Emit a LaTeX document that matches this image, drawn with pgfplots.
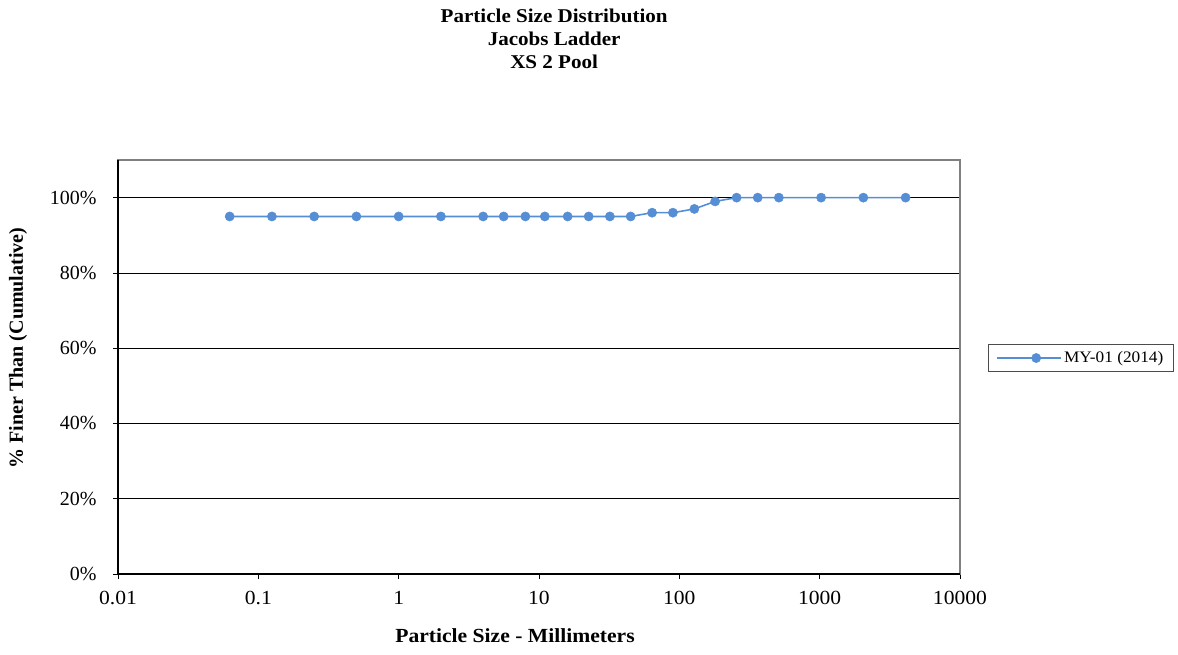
\documentclass[border=0pt]{standalone}
\usepackage{fontspec}
\setmainfont{Liberation Serif}[FakeStretch=1.08]
\newfontfamily\plainfont{Liberation Serif}
\usepackage{pgfplots}
\pgfplotsset{compat=1.18}
\definecolor{ser}{RGB}{85,142,213}
\definecolor{frame}{RGB}{128,128,128}
\begin{document}
\begin{tikzpicture}
\begin{axis}[
  scale only axis,
  width=842pt, height=414pt,
  xmode=log, log basis x=10,
  xmin=0.01, xmax=10000,
  ymin=0, ymax=110,
  xtick={0.01,0.1,1,10,100,1000,10000},
  xticklabels={0.01,0.1,1,10,100,1000,10000},
  ytick={0,20,40,60,80,100},
  yticklabels={0\%,20\%,40\%,60\%,80\%,100\%},
  minor xtick={}, minor ytick={},
  xtick pos=bottom, ytick pos=left,
  ymajorgrids, grid style={black, line width=0.6pt},
  axis line style={frame, line width=1.5pt},
  tick style={black, line width=0.8pt},
  tick align=outside, major tick length=5pt,
  xticklabel style={font=\fontsize{20}{22}\selectfont, yshift=-9pt},
  yticklabel style={font=\plainfont\fontsize{20}{22}\selectfont, xshift=-13pt},
  title={\textbf{Particle Size Distribution}\\\textbf{Jacobs Ladder}\\\textbf{XS 2 Pool}},
  title style={at={(0.518,1.358)}, anchor=north, align=center, font=\fontsize{19.5}{23}\selectfont},
  xlabel={\textbf{Particle Size - Millimeters}},
  xlabel style={at={(0.4715,-0.1498)}, anchor=center, font=\fontsize{20}{22}\selectfont},
  ylabel={\textbf{\% Finer Than (Cumulative)}},
  ylabel style={at={(-0.1188,0.546)}, anchor=center, rotate=0, font=\plainfont\fontsize{20}{22}\selectfont},
  legend style={at={(1.0333,0.5217)}, anchor=west, draw=black!70, line width=0.8pt,
    font=\fontsize{16}{18}\selectfont, inner xsep=8pt, inner ysep=5pt,
    legend cell align=left},
  legend image code/.code={
    \path (0pt,0pt) -- (64pt,0pt);
    \draw[#1, line width=1.6pt] (12pt,0pt) -- (64pt,0pt);
    \draw[#1] plot coordinates {(39pt,0pt)};},
  clip=false,
]
\addplot[ser, line width=1.6pt, mark=*, mark size=4.6pt, mark options={fill=ser, draw=ser, line width=0.5pt}]
coordinates {
(0.0625,95) (0.125,95) (0.25,95) (0.5,95) (1,95) (2,95) (4,95) (5.6,95) (8,95) (11,95)
(16,95) (22.6,95) (32,95) (45,95) (64,96) (90,96) (128,97) (180,99) (256,100) (362,100)
(512,100) (1024,100) (2048,100) (4096,100)
};
\addlegendentry{MY-01 (2014)}
\draw[black, line width=1.5pt] (rel axis cs:0,1) -- (rel axis cs:0,0) -- (rel axis cs:1,0);
\end{axis}
\useasboundingbox (-118pt,-80pt) rectangle (1060pt,574pt);
\end{tikzpicture}
\end{document}
